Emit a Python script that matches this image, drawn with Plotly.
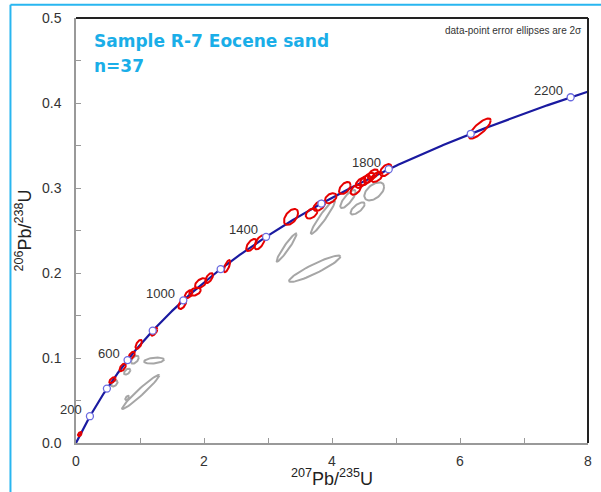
import numpy as np
import plotly.graph_objects as go

# U decay constants (per year)
LAMBDA_238 = 1.55125e-10
LAMBDA_235 = 9.8485e-10

# Concordia age marks (Ma) and which of them are labelled
marker_ages = [200, 400, 600, 800, 1000, 1200, 1400, 1600, 1800, 2000, 2200]
label_ages = [200, 600, 1000, 1400, 1800, 2200]

# Concordant analyses: 207Pb/235U, 206Pb/238U, 2-sigma errors, error correlation
conc_x = [0.06, 0.57, 0.73, 0.87, 0.98, 1.22, 1.66, 1.76, 1.86, 1.95, 2.08, 2.36,
          2.74, 2.87, 3.36, 3.68, 3.80, 3.98, 4.20, 4.37, 4.45, 4.52, 4.58, 4.64,
          4.70, 4.84, 6.31]
conc_y = [0.0105, 0.074, 0.089, 0.103, 0.116, 0.131, 0.1635, 0.175, 0.178, 0.188,
          0.194, 0.208, 0.233, 0.236, 0.266, 0.270, 0.279, 0.288, 0.300, 0.298,
          0.306, 0.309, 0.312, 0.316, 0.313, 0.321, 0.370]
conc_sx = [0.03, 0.05, 0.05, 0.05, 0.05, 0.05, 0.06, 0.06, 0.09, 0.09, 0.06, 0.05,
           0.08, 0.08, 0.11, 0.09, 0.09, 0.09, 0.09, 0.08, 0.08, 0.08, 0.08, 0.08,
           0.09, 0.09, 0.17]
conc_sy = [0.0025, 0.0035, 0.0045, 0.0045, 0.0053, 0.0047, 0.0059, 0.0047, 0.0047,
           0.0059, 0.0059, 0.0071, 0.0071, 0.0082, 0.0094, 0.0059, 0.0059, 0.0059,
           0.0071, 0.0059, 0.0059, 0.0059, 0.0059, 0.0059, 0.0059, 0.0071, 0.0118]
conc_rho = [0.5, 0.6, 0.6, 0.6, 0.6, 0.6, 0.5, 0.5, 0.4, 0.5, 0.6, 0.7,
            0.6, 0.6, 0.5, 0.4, 0.5, 0.4, 0.5, 0.5, 0.5, 0.5, 0.5, 0.5,
            0.5, 0.5, 0.8]

# Discordant analyses
disc_x = [0.60, 0.80, 0.92, 1.22, 1.01, 0.80, 3.29, 3.73, 3.86, 4.25, 4.40, 4.66]
disc_y = [0.070, 0.084, 0.098, 0.097, 0.060, 0.053, 0.230, 0.205, 0.266, 0.287,
          0.276, 0.296]
disc_sx = [0.05, 0.05, 0.06, 0.155, 0.29, 0.03, 0.155, 0.40, 0.19, 0.12, 0.11, 0.155]
disc_sy = [0.0035, 0.0035, 0.0047, 0.0035, 0.020, 0.0025, 0.0165, 0.0155, 0.020,
           0.0106, 0.0071, 0.0106]
disc_rho = [0.5, 0.5, 0.5, 0.3, 0.97, 0.5, 0.95, 0.92, 0.95, 0.8, 0.7, 0.5]


def concordia(t_ma):
    t = np.asarray(t_ma, dtype=float) * 1e6
    return np.exp(LAMBDA_235 * t) - 1.0, np.exp(LAMBDA_238 * t) - 1.0


def ellipse(cx, cy, sx, sy, rho, n=60):
    a = np.linspace(0, 2 * np.pi, n)
    ex = cx + sx * np.cos(a)
    ey = cy + sy * (rho * np.cos(a) + np.sqrt(1 - rho ** 2) * np.sin(a))
    return ex, ey


def ellipse_trace(xs, ys, sxs, sys_, rhos, color):
    px, py = [], []
    for cx, cy, sx, sy, r in zip(xs, ys, sxs, sys_, rhos):
        ex, ey = ellipse(cx, cy, sx, sy, r)
        px += list(ex) + [None]
        py += list(ey) + [None]
    return go.Scatter(x=px, y=py, mode="lines", line=dict(color=color, width=2),
                      hoverinfo="skip", showlegend=False)


fig = go.Figure()

fig.add_trace(ellipse_trace(disc_x, disc_y, disc_sx, disc_sy, disc_rho, "#a6a6a6"))

t_curve = np.linspace(0, 2240, 600)
cx, cy = concordia(t_curve)
fig.add_trace(go.Scatter(x=cx, y=cy, mode="lines", line=dict(color="#1a1aa0", width=2.2),
                         hoverinfo="skip", showlegend=False))

fig.add_trace(ellipse_trace(conc_x, conc_y, conc_sx, conc_sy, conc_rho, "#e60000"))

mx, my = concordia(marker_ages)
fig.add_trace(go.Scatter(x=mx, y=my, mode="markers",
                         marker=dict(symbol="circle", size=7, color="white",
                                     line=dict(color="#6b6be0", width=1.3)),
                         hoverinfo="skip", showlegend=False))

lx, ly = concordia(label_ages)
for age, x, y in zip(label_ages, lx, ly):
    fig.add_annotation(x=x, y=y, text=str(age), showarrow=False,
                       xanchor="right", yanchor="middle", xshift=-6, yshift=7,
                       font=dict(family="Liberation Sans, Arial", size=13, color="#333333"))

# Sample name and count
title_font = dict(family="DejaVu Sans", size=17, color="#1aaee8")
fig.add_annotation(xref="paper", yref="paper", x=0.031, y=0.945, text="<b>Sample R-7 Eocene sand</b>",
                   showarrow=False, xanchor="left", yanchor="middle", font=title_font)
fig.add_annotation(xref="paper", yref="paper", x=0.031, y=0.888, text="<b>n=37</b>",
                   showarrow=False, xanchor="left", yanchor="middle", font=title_font)
fig.add_annotation(xref="paper", yref="paper", x=0.993, y=0.971,
                   text="data-point error ellipses are 2σ", showarrow=False,
                   xanchor="right", yanchor="middle",
                   font=dict(family="Liberation Sans, Arial", size=10, color="#333333"))

# x-axis title placed just under the tick labels
fig.add_annotation(xref="paper", yref="paper", x=0.5, y=-0.081,
                   text="<sup>207</sup>Pb/<sup>235</sup>U", showarrow=False,
                   xanchor="center", yanchor="middle",
                   font=dict(family="Liberation Sans, Arial", size=18, color="#222222"))

# Black top and right borders of the plot box
fig.add_shape(type="line", xref="paper", yref="paper", x0=0, x1=1, y0=1, y1=1,
              line=dict(color="#222222", width=2))
fig.add_shape(type="line", xref="paper", yref="paper", x0=1, x1=1, y0=0, y1=1,
              line=dict(color="#222222", width=2))

# Cyan frame around the whole figure
fig.add_shape(type="line", xref="paper", yref="paper", x0=-0.128, x1=1.05, y0=1.031, y1=1.031,
              line=dict(color="#29b6f0", width=2))
fig.add_shape(type="line", xref="paper", yref="paper", x0=-0.128, x1=-0.128, y0=-0.12, y1=1.031,
              line=dict(color="#29b6f0", width=2))

tick_font = dict(family="Liberation Sans, Arial", size=14, color="#333333")
fig.update_xaxes(range=[0, 8], tickvals=[0, 2, 4, 6, 8], ticktext=["0", "2", "4", "6", "8"],
                 ticks="inside", ticklen=5, tickcolor="#999999", ticklabelstandoff=4,
                 minor=dict(ticks="inside", dtick=1, ticklen=5, tickcolor="#999999"),
                 showline=True, linecolor="#999999", linewidth=1.5,
                 showgrid=False, zeroline=False, tickfont=tick_font)
fig.update_yaxes(range=[0, 0.5], tickvals=[0, 0.1, 0.2, 0.3, 0.4, 0.5],
                 ticktext=["0.0", "0.1", "0.2", "0.3", "0.4", "0.5"],
                 ticks="inside", ticklen=5, tickcolor="#999999", ticklabelstandoff=10,
                 minor=dict(ticks="inside", dtick=0.05, ticklen=5, tickcolor="#999999"),
                 showline=True, linecolor="#999999", linewidth=1.5,
                 showgrid=False, zeroline=False, tickfont=tick_font,
                 title=dict(text="<sup>206</sup>Pb/<sup>238</sup>U", standoff=6,
                            font=dict(family="Liberation Sans, Arial", size=18, color="#222222")))

fig.update_layout(width=601, height=492, margin=dict(l=76, r=9, t=18, b=49),
                  plot_bgcolor="white", paper_bgcolor="white", showlegend=False)

fig.write_html("out.html")
